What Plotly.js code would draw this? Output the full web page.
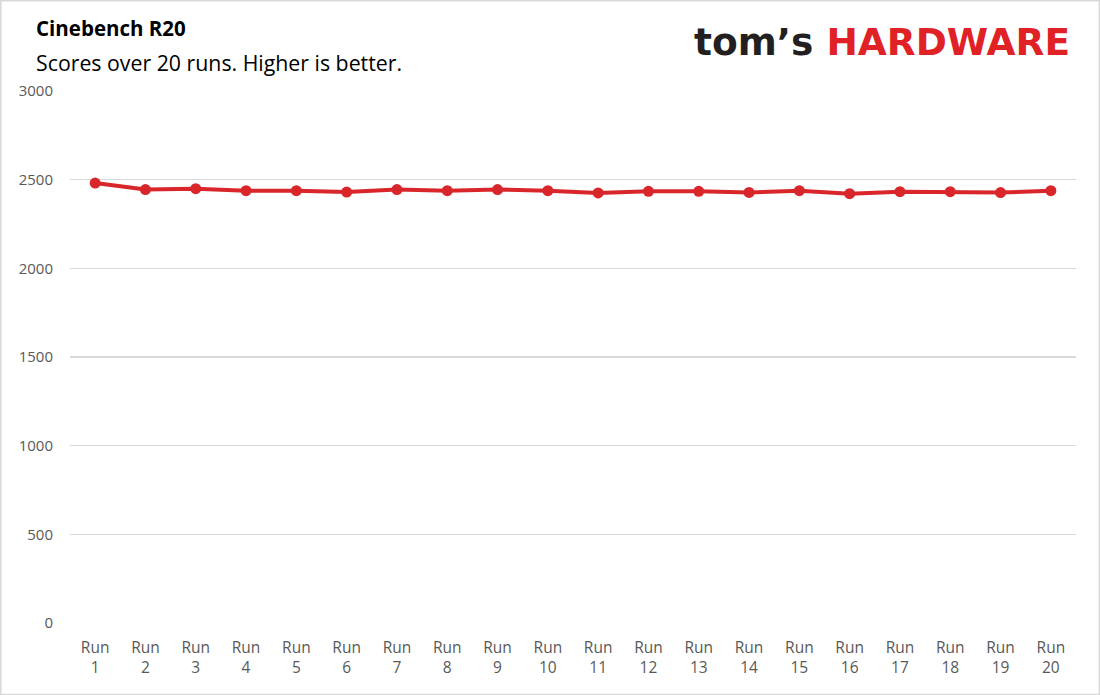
<!DOCTYPE html>
<html><head><meta charset="utf-8">
<script src="https://cdn.plot.ly/plotly-3.0.1.min.js"></script>
<style>html,body{margin:0;padding:0;background:#fff;}#chart{width:1100px;height:695px;}</style>
</head><body><div id="chart"></div>
<script>
const runs = ["Run 1","Run 2","Run 3","Run 4","Run 5","Run 6","Run 7","Run 8","Run 9","Run 10","Run 11","Run 12","Run 13","Run 14","Run 15","Run 16","Run 17","Run 18","Run 19","Run 20"];
const scores = [2481,2444,2449,2438,2438,2430,2444,2438,2444,2438,2425,2434,2434,2428,2438,2421,2432,2432,2427,2438];
const yTicks = [0,500,1000,1500,2000,2500,3000];
const tickLabels = runs.map(r => r.replace(" ", "<br>"));

const trace = {
  x: runs, y: scores, type: "scatter", mode: "lines+markers",
  line: {color: "#d9262b", width: 4},
  marker: {color: "#d9262b", size: 11},
  hoverinfo: "x+y"
};
const layout = {
  width: 1100, height: 695,
  margin: {l: 70, r: 24, t: 91, b: 72},
  paper_bgcolor: "#fff", plot_bgcolor: "#fff",
  font: {family: "Open Sans, sans-serif", color: "#595959"},
  showlegend: false,
  xaxis: {
    type: "category", range: [-0.5, 19.5],
    tickvals: runs, ticktext: tickLabels,
    showgrid: false, zeroline: false, showline: false,
    ticks: "", tickfont: {size: 15.5, color: "#595959"}, ticklabelstandoff: 13
  },
  yaxis: {
    range: [0, 3000], tickvals: yTicks, ticktext: yTicks.map(String),
    showgrid: true, gridcolor: "#d9d9d9", gridwidth: 1.5,
    zeroline: false, showline: false, ticks: "",
    tickfont: {size: 15, color: "#595959"}, ticklabelstandoff: 16
  },
  annotations: [
    {xref: "paper", yref: "paper", xanchor: "left", yanchor: "middle", x: -0.036, y: 1.119,
     text: "<b>Cinebench R20</b>", showarrow: false,
     font: {family: "Open Sans, sans-serif", size: 20.5, color: "#000"}},
    {xref: "paper", yref: "paper", xanchor: "left", yanchor: "middle", x: -0.036, y: 1.054,
     text: "Scores over 20 runs. Higher is better.", showarrow: false,
     font: {family: "Open Sans, sans-serif", size: 21.3, color: "#000"}},
    {xref: "paper", yref: "paper", xanchor: "right", yanchor: "middle", x: 0.996, y: 1.092,
     text: "<b><span style='color:#231f20'>tom’s</span> <span style='color:#e02226'>HARDWARE</span></b>",
     showarrow: false,
     font: {family: "DejaVu Sans, sans-serif", size: 37.5, color: "#e02226"}}
  ],
  shapes: [
    {type: "rect", xref: "paper", yref: "paper", x0: -0.069, x1: 1.0235, y0: -0.135, y1: 1.17,
     line: {color: "#d9d9d9", width: 2}}
  ]
};
Plotly.newPlot("chart", [trace], layout, {displayModeBar: false, staticPlot: true});
</script></body></html>
